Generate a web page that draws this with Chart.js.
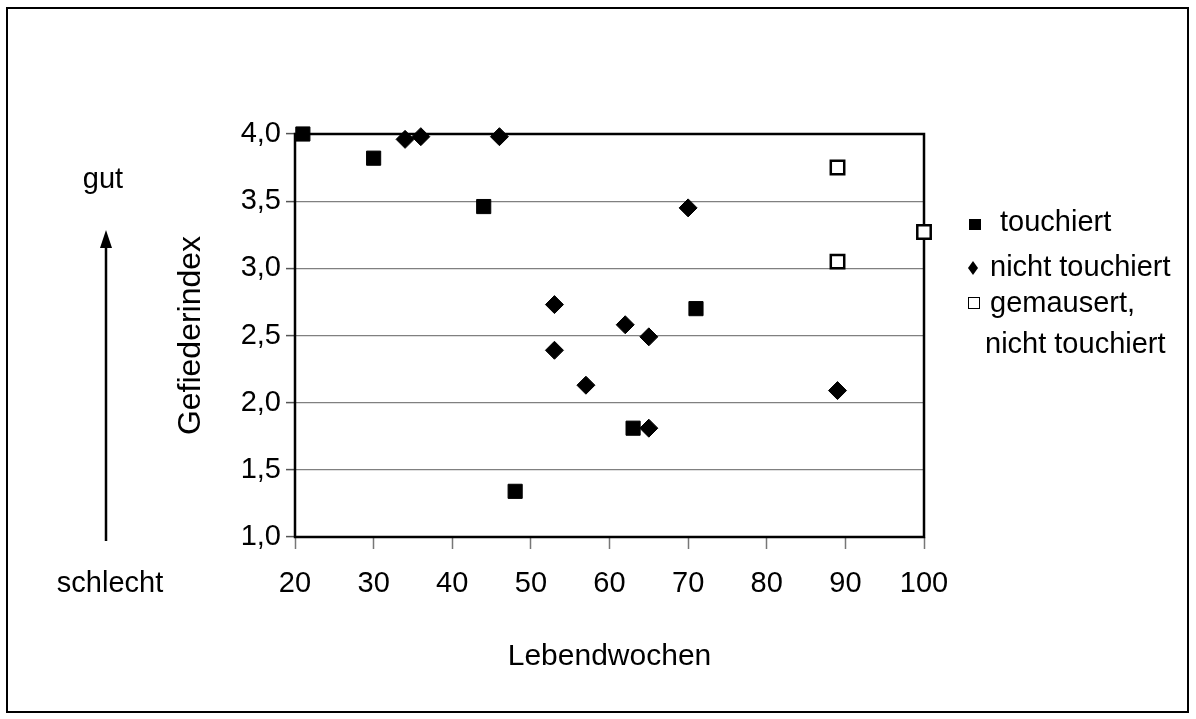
<!DOCTYPE html>
<html lang="de">
  <head>
    <meta charset="UTF-8" />
    <title>Gefiederindex</title>
    <script src="https://cdn.jsdelivr.net/npm/chart.js"></script>
    <style>
      html, body { margin: 0; padding: 0; background: #fff; }
      #wrap { width: 1196px; height: 719px; }
    </style>
  </head>
  <body>
    <div id="wrap"><canvas id="chart" width="1196" height="719"></canvas></div>
    <script>
      // Lebendwochen / Gefiederindex
      const touchiertX = [21, 30, 44, 48, 63, 71];
      const touchiertY = [4.0, 3.82, 3.46, 1.34, 1.81, 2.7];

      const nichtX = [34, 36, 46, 53, 62, 65, 53, 57, 65, 70, 89];
      const nichtY = [3.96, 3.98, 3.98, 2.73, 2.58, 2.49, 2.39, 2.13, 1.81, 3.45, 2.09];

      const gemausertX = [89, 89, 100];
      const gemausertY = [3.75, 3.05, 3.27];

      const xTicks = [20, 30, 40, 50, 60, 70, 80, 90, 100];
      const yTicks = [1.0, 1.5, 2.0, 2.5, 3.0, 3.5, 4.0];

      const legendLabels = ["touchiert", "nicht touchiert", ["gemausert,", "nicht touchiert"]];

      const FONT = "'Liberation Sans', Arial, sans-serif";
      const toPoints = (xs, ys) => xs.map((x, i) => ({ x: x, y: ys[i] }));

      const decor = {
        id: "decor",
        beforeDatasetsDraw(chart) {
          const { ctx, chartArea: a } = chart;
          ctx.save();
          ctx.strokeStyle = "#000";
          ctx.lineWidth = 2.5;
          ctx.strokeRect(a.left, a.top, a.right - a.left, a.bottom - a.top);
          ctx.restore();
        },
        afterDraw(chart) {
          const ctx = chart.ctx;
          ctx.save();
          // outer frame
          ctx.strokeStyle = "#000";
          ctx.lineWidth = 2;
          ctx.strokeRect(7, 8, 1181, 704);

          ctx.fillStyle = "#000";
          ctx.font = "29px " + FONT;
          ctx.textAlign = "center";
          ctx.textBaseline = "alphabetic";
          ctx.fillText("gut", 103, 188);
          ctx.fillText("schlecht", 110, 592);

          // arrow
          ctx.lineWidth = 2.5;
          ctx.beginPath();
          ctx.moveTo(106, 541);
          ctx.lineTo(106, 244);
          ctx.stroke();
          ctx.beginPath();
          ctx.moveTo(106, 230);
          ctx.lineTo(100, 248);
          ctx.lineTo(112, 248);
          ctx.closePath();
          ctx.fill();

          // legend
          ctx.textAlign = "left";
          ctx.font = "29px " + FONT;
          // touchiert
          ctx.fillRect(969, 219, 12, 11);
          ctx.fillText(legendLabels[0], 1000, 231);
          // nicht touchiert
          ctx.beginPath();
          ctx.moveTo(973, 261);
          ctx.lineTo(978, 268);
          ctx.lineTo(973, 275);
          ctx.lineTo(968, 268);
          ctx.closePath();
          ctx.fill();
          ctx.fillText(legendLabels[1], 990, 276);
          // gemausert
          ctx.lineWidth = 1;
          ctx.fillStyle = "#fff";
          ctx.fillRect(968.5, 297.5, 11, 11);
          ctx.strokeRect(968.5, 297.5, 11, 11);
          ctx.fillStyle = "#000";
          ctx.fillText(legendLabels[2][0], 990, 312);
          ctx.fillText(legendLabels[2][1], 985, 353);
          ctx.restore();
        }
      };

      new Chart(document.getElementById("chart"), {
        type: "scatter",
        data: {
          datasets: [
            {
              label: "touchiert",
              data: toPoints(touchiertX, touchiertY),
              pointStyle: "rect",
              pointRadius: 10,
              backgroundColor: "#000",
              borderColor: "#000",
              borderWidth: 1,
              clip: false
            },
            {
              label: "nicht touchiert",
              data: toPoints(nichtX, nichtY),
              pointStyle: "rectRot",
              pointRadius: 9,
              backgroundColor: "#000",
              borderColor: "#000",
              borderWidth: 1,
              clip: false
            },
            {
              label: "gemausert, nicht touchiert",
              data: toPoints(gemausertX, gemausertY),
              pointStyle: "rect",
              pointRadius: 9.5,
              backgroundColor: "#fff",
              borderColor: "#000",
              borderWidth: 2.5,
              clip: false
            }
          ]
        },
        options: {
          responsive: false,
          animation: false,
          events: [],
          layout: { padding: { left: 0, top: 134, right: 272, bottom: 0 } },
          plugins: {
            legend: { display: false },
            tooltip: { enabled: false }
          },
          scales: {
            x: {
              type: "linear",
              min: 20,
              max: 100,
              afterBuildTicks: (s) => { s.ticks = xTicks.map((v) => ({ value: v })); },
              afterFit: (s) => { s.height = 182; },
              border: { display: false },
              grid: { drawOnChartArea: false, drawTicks: true, tickLength: 12, tickColor: "#777", tickWidth: 1.5 },
              ticks: { color: "#000", font: { family: FONT, size: 29 }, padding: 18, maxRotation: 0 },
              title: { display: true, text: "Lebendwochen", color: "#000", font: { family: FONT, size: 30 }, padding: { top: 0, bottom: 44 } }
            },
            y: {
              type: "linear",
              min: 1,
              max: 4,
              afterBuildTicks: (s) => { s.ticks = yTicks.map((v) => ({ value: v })); },
              afterFit: (s) => { s.width = 295; },
              border: { display: false },
              grid: { color: "#808080", lineWidth: 1.2, drawTicks: true, tickLength: 9, tickColor: "#555", tickWidth: 1.5 },
              ticks: {
                color: "#000",
                font: { family: FONT, size: 29 },
                padding: 5,
                callback: (v) => v.toFixed(1).replace(".", ",")
              },
              title: { display: true, text: "Gefiederindex", color: "#000", font: { family: FONT, size: 32 }, padding: { top: 172, bottom: 0 } }
            }
          }
        },
        plugins: [decor]
      });
    </script>
  </body>
</html>
